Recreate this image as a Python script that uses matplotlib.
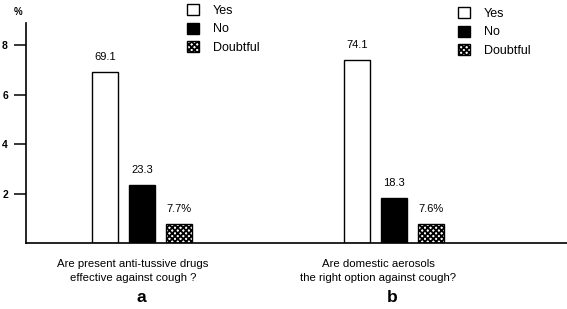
import matplotlib
matplotlib.use("Agg")
import matplotlib.pyplot as plt
import numpy as np

plt.rcParams['font.family'] = ['Liberation Sans', 'DejaVu Sans']

series = ["Yes", "No", "Doubtful"]
values_a = [69.1, 23.3, 7.7]
values_b = [74.1, 18.3, 7.6]
value_labels_a = ["69.1", "23.3", "7.7%"]
value_labels_b = ["74.1", "18.3", "7.6%"]
questions = ["Are present anti-tussive drugs\neffective against cough ?",
             "Are domestic aerosols\nthe right option against cough?"]
panel_letters = ["a", "b"]
yticks = [20, 40, 60, 80]
ytick_labels = ["2", "4", "6", "8"]

W, H = 567, 309
fig = plt.figure(figsize=(W/100, H/100), dpi=100)
ax = fig.add_axes([26/W, (H-243)/H, (W-26)/W, (243-23)/H])

groups = np.array([0.0, 1.0])
width = 0.103
offsets = np.array([-0.147, 0.0, 0.147])
styles = [dict(facecolor="white", edgecolor="black"),
          dict(facecolor="black", edgecolor="black"),
          dict(facecolor="white", edgecolor="black", hatch="xxxxxx")]
plt.rcParams['hatch.linewidth'] = 1.3

data = np.array([values_a, values_b])
labels = [value_labels_a, value_labels_b]
for j, s in enumerate(series):
    bars = ax.bar(groups + offsets[j], data[:, j], width=width, linewidth=1.0,
                  label=s, **styles[j])
    for g, b in enumerate(bars):
        ax.text(b.get_x() + b.get_width()/2, b.get_height() + 4, labels[g][j],
                ha="center", va="bottom", fontsize=8)

ax.set_xlim(-0.460, 1.687)
ax.set_ylim(0, 88.9)
ax.set_yticks(yticks)
ax.set_yticklabels(ytick_labels, fontsize=7.5, fontweight="bold")
ax.tick_params(axis="y", length=9, width=1.1, pad=4)
ax.set_xticks([])
for sp in ["top", "right"]:
    ax.spines[sp].set_visible(False)
ax.spines["left"].set_linewidth(1.2)
ax.spines["bottom"].set_linewidth(1.2)

fig.text(14/W, 1 - 12/H, "%", fontsize=7, fontweight="bold", ha="left", va="center")

# legends
for leg_x, leg_y in [(189, 8), (460, 11)]:
    handles = [plt.Rectangle((0, 0), 1, 1, linewidth=1.0, **styles[j]) for j in range(3)]
    leg = fig.legend(handles, series, loc="upper left",
                     bbox_to_anchor=(leg_x/W - 0.004, 1 - (leg_y - 4)/H),
                     frameon=False, fontsize=9, handlelength=1.0, handleheight=1.0,
                     labelspacing=0.45, handletextpad=1.1, borderpad=0.0,
                     borderaxespad=0.0)

# question texts and letters
q_x = [133, 378]
l_x = [141, 392]
for i in range(2):
    fig.text(q_x[i]/W, 1 - 271/H, questions[i], ha="center", va="center",
             fontsize=8.2, linespacing=1.45)
    fig.text(l_x[i]/W, 1 - 298/H, panel_letters[i], ha="center", va="center",
             fontsize=12.5, fontweight="bold")

fig.savefig("out.png", dpi=100)
